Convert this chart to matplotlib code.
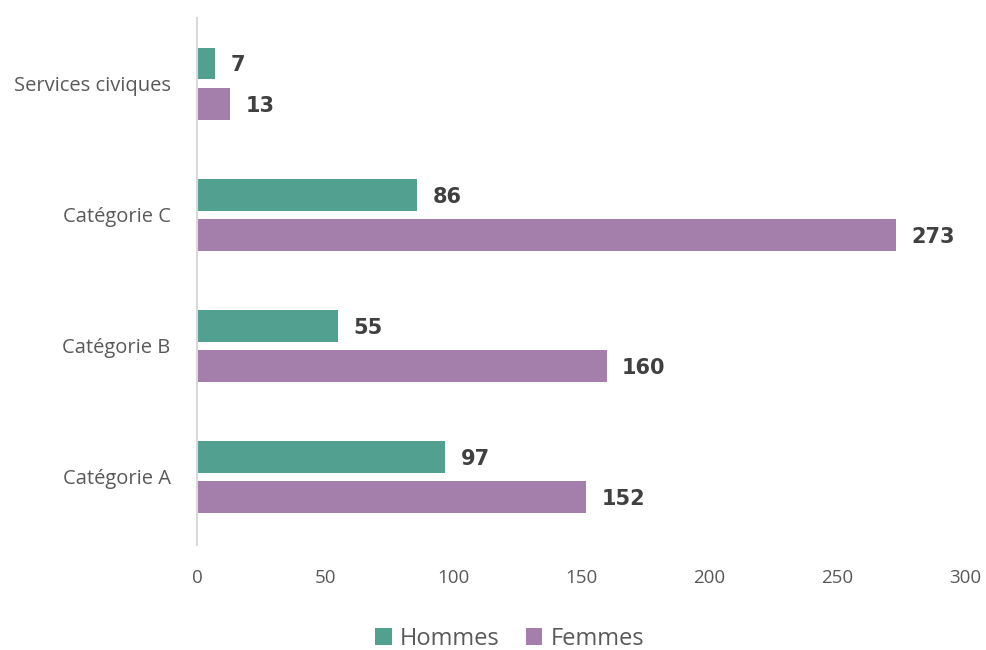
import matplotlib
matplotlib.use("Agg")
import matplotlib.pyplot as plt
import numpy as np

categories = ["Catégorie A", "Catégorie B", "Catégorie C", "Services civiques"]
hommes = [97, 55, 86, 7]
femmes = [152, 160, 273, 13]
series_names = ["Hommes", "Femmes"]
xticks = [0, 50, 100, 150, 200, 250, 300]

c_h = "#52A08F"
c_f = "#A47FAB"

plt.rcParams['font.family'] = ['Open Sans', 'DejaVu Sans']
fig = plt.figure(figsize=(9.86, 6.5), dpi=100)
ax = fig.add_axes([0.1998, 0.1615, 0.7789, 0.8108])

y = np.arange(len(categories))
off = 0.153
h = 0.244
bh = ax.barh(y + off, hommes, height=h, color=c_h, label=series_names[0])
bf = ax.barh(y - off, femmes, height=h, color=c_f, label=series_names[1])

for yy, v in zip(y + off, hommes):
    ax.text(v + 6, yy, str(v), va="center_baseline", ha="left", fontsize=15, fontweight="bold",
            color="#404040", family="DejaVu Sans")
for yy, v in zip(y - off, femmes):
    ax.text(v + 6, yy, str(v), va="center_baseline", ha="left", fontsize=15, fontweight="bold",
            color="#404040", family="DejaVu Sans")

ax.set_xlim(0, 300)
ax.set_ylim(-0.52, 3.5)
ax.set_xticks(xticks)
ax.set_xticklabels([str(t) for t in xticks])
ax.set_yticks(y)
ax.set_yticklabels(categories)
ax.tick_params(axis="both", length=0, labelcolor="#595959")
ax.tick_params(axis="x", pad=17, labelsize=13.5)
ax.tick_params(axis="y", pad=19, labelsize=14.5)
for s in ["top", "right", "bottom"]:
    ax.spines[s].set_visible(False)
ax.spines["left"].set_color("#D9D9D9")
ax.spines["left"].set_linewidth(1.5)

leg = fig.legend(handles=[bh, bf], labels=series_names, loc="center",
                 bbox_to_anchor=(0.517, 1 - 639 / 650), ncol=2, frameon=False, fontsize=17,
                 handlelength=0.7, handleheight=0.7, handletextpad=0.35, columnspacing=1.1)
for t in leg.get_texts():
    t.set_color("#595959")

fig.savefig("out.png", dpi=100)
